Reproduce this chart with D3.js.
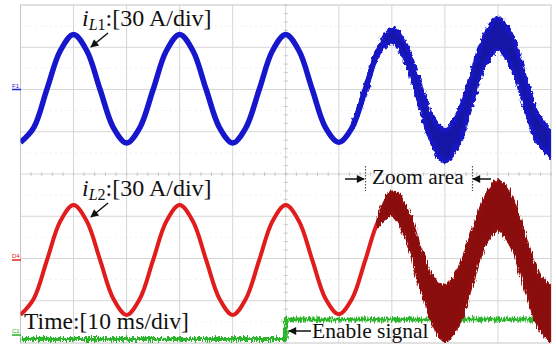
<!DOCTYPE html>
<html>
<head>
<meta charset="utf-8">
<script src="https://cdn.jsdelivr.net/npm/d3@7"></script>
<style>
  body { margin: 0; background: #fff; }
  svg { display: block; }
  text { font-family: "Liberation Serif", "Times New Roman", serif; fill: #111; }
</style>
</head>
<body>
<script>
// temps en ms (10 ms/div)
const TIME = [0, 2.5, 5, 7.5, 10, 12.5, 15, 17.5, 20, 22.5, 25, 27.5, 30, 32.5, 35, 37.5,
  40, 42.5, 45, 47.5, 50, 52.5, 55, 57.5, 60, 62.5, 65, 67.5, 70, 72.5, 75, 77.5,
  80, 82.5, 85, 87.5, 90, 92.5, 95, 97.5, 100]

// iL1 en A (30 A/div)
const IL1 = [-37.5, -27, 0.5, 27.5, 39, 27.5, 0, -27, -38, -27, 0, 27.5, 39, 27.5, 0, -27,
  -38, -27, 0, 27.5, 39, 27.5, 0, -27, -37.5, -27, 0, 27.5, 38.5, 27, -0.5, -28,
  -40, -28, 0, 28, 39.5, 28, 0, -27.5, -38.5]
// enveloppe du bruit de iL1 (demi-largeur en A)
const IL1_NOISE = [0, 0, 0, 0, 0, 0, 0, 0, 0, 0, 0, 0, 0, 0, 0, 0,
  0, 0, 0, 0, 0, 0, 0, 0, 0, 0.5, 1, 2, 4.5, 5.5, 7, 9,
  11, 11, 10.5, 10.5, 11, 11, 10, 9.5, 9]

// iL2 en A (30 A/div)
const IL2 = [-39, -27.5, 0, 27.5, 39, 27.5, 0, -27.5, -39, -27.5, 0, 27.5, 39, 27.5, 0, -27.5,
  -39, -27.5, 0, 27.5, 39, 27.5, 0, -27.5, -38.5, -27.5, 0, 28, 40, 28, 0, -27,
  -38, -27, 0, 27.5, 39, 27.5, 0, -27.5, -39]
const IL2_NOISE = [0, 0, 0, 0, 0, 0, 0, 0, 0, 0, 0, 0, 0, 0, 0, 0,
  0, 0, 0, 0, 0, 0, 0, 0, 0, 0, 0, 2, 8, 10, 12, 15,
  19, 19, 17, 16, 17, 17, 17, 18, 19]

// signal d'activation (niveau logique)
const ENABLE_T = [0, 50, 50, 100]
const ENABLE = [0, 0, 1, 1]

const WIDTH = 556
const HEIGHT = 347
const LEFT = 20.5, RIGHT = 551, TOP = 5, BOTTOM = 343

const svg = d3.select('body').append('svg')
  .attr('width', WIDTH)
  .attr('height', HEIGHT)

const defs = svg.append('defs')
defs.append('clipPath').attr('id', 'plot')
  .append('rect').attr('x', LEFT).attr('y', TOP)
  .attr('width', RIGHT - LEFT).attr('height', BOTTOM - TOP)

// flou "bruit" pour les traces bruitées
function fuzz(id, freq, scale, blur) {
  const f = defs.append('filter').attr('id', id)
    .attr('x', '-5%').attr('y', '-30%').attr('width', '110%').attr('height', '160%')
  f.append('feTurbulence').attr('type', 'fractalNoise')
    .attr('baseFrequency', freq).attr('numOctaves', 2).attr('seed', 4).attr('result', 'n')
  f.append('feDisplacementMap').attr('in', 'SourceGraphic').attr('in2', 'n')
    .attr('scale', scale).attr('xChannelSelector', 'R').attr('yChannelSelector', 'G')
    .attr('result', 'd')
  f.append('feGaussianBlur').attr('in', 'd').attr('stdDeviation', blur)
}
fuzz('fz1', '0.35 0.2', 6, 0.6)
fuzz('fz2', '0.8 0.1', 7, 0.4)
fuzz('fzg', '1.2 0.2', 8, 0.3)

// échelles
const x = d3.scaleLinear().domain([0, 100]).range([LEFT, RIGHT])
const gx = d3.scaleLinear().domain([0, 10]).range([LEFT, RIGHT])
const gy = d3.scaleLinear().domain([0, 8]).range([TOP, BOTTOM])
const y1 = d3.scaleLinear().domain([-60, 60]).range([gy(4), gy(0)])
const y2 = d3.scaleLinear().domain([-60, 60]).range([gy(8) + 1.5, gy(4) + 1.5])
const yEn = d3.scaleLinear().domain([0, 1]).range([339, 319.5])

// grille
const grid = svg.append('g')
grid.selectAll('.hd').data(d3.range(0.5, 8, 1)).enter().append('line')
  .attr('x1', LEFT).attr('x2', RIGHT).attr('y1', d => gy(d)).attr('y2', d => gy(d))
  .attr('stroke', '#e2e2e2').attr('stroke-dasharray', '1,4')
grid.selectAll('.v').data(d3.range(1, 10)).enter().append('line')
  .attr('x1', d => gx(d)).attr('x2', d => gx(d)).attr('y1', TOP).attr('y2', BOTTOM)
  .attr('stroke', '#d6d6d6')
grid.selectAll('.h').data(d3.range(1, 8)).enter().append('line')
  .attr('x1', LEFT).attr('x2', RIGHT).attr('y1', d => gy(d)).attr('y2', d => gy(d))
  .attr('stroke', '#d6d6d6')
// petites graduations sur les axes centraux
grid.selectAll('.tx').data(d3.range(0, 10.01, 0.2)).enter().append('line')
  .attr('x1', d => gx(d)).attr('x2', d => gx(d)).attr('y1', gy(4) - 2).attr('y2', gy(4) + 2)
  .attr('stroke', '#c8c8c8')
grid.selectAll('.ty').data(d3.range(0, 8.01, 0.2)).enter().append('line')
  .attr('y1', d => gy(d)).attr('y2', d => gy(d)).attr('x1', gx(5) - 2).attr('x2', gx(5) + 2)
  .attr('stroke', '#c8c8c8')
grid.append('rect').attr('x', LEFT).attr('y', TOP)
  .attr('width', RIGHT - LEFT).attr('height', BOTTOM - TOP)
  .attr('fill', 'none').attr('stroke', '#c4c4c4')

const PTS = TIME.map((t, i) => ({ t, a: IL1[i], na: IL1_NOISE[i], b: IL2[i], nb: IL2_NOISE[i] }))
const clean = PTS.filter(d => d.t <= 70)
const noisy = PTS.filter(d => d.t >= 62.5)
const noisy2 = PTS.filter(d => d.t >= 67.5)

const traces = svg.append('g').attr('clip-path', 'url(#plot)')

// signal d'activation (vert)
const en = ENABLE_T.map((t, i) => ({ t, v: ENABLE[i] }))
traces.append('path').datum(en)
  .attr('d', d3.line().x(d => x(d.t)).y(d => yEn(d.v)))
  .attr('fill', 'none').attr('stroke', '#2cb52c').attr('stroke-width', 4)
  .attr('filter', 'url(#fzg)')

// iL1 (bleu)
traces.append('path').datum(clean)
  .attr('d', d3.line().curve(d3.curveCatmullRom).x(d => x(d.t)).y(d => y1(d.a)))
  .attr('fill', 'none').attr('stroke', '#1616cc').attr('stroke-width', 5.5)
traces.append('path').datum(noisy)
  .attr('d', d3.area().curve(d3.curveCatmullRom).x(d => x(d.t))
    .y0(d => y1(d.a - d.na)).y1(d => y1(d.a + d.na)))
  .attr('fill', '#1414a6').attr('stroke', '#1818c4').attr('stroke-width', 4.5)
  .attr('filter', 'url(#fz1)')

// iL2 (rouge)
traces.append('path').datum(clean)
  .attr('d', d3.line().curve(d3.curveCatmullRom).x(d => x(d.t)).y(d => y2(d.b)))
  .attr('fill', 'none').attr('stroke', '#e01c1c').attr('stroke-width', 4)
traces.append('path').datum(noisy2)
  .attr('d', d3.area().curve(d3.curveCatmullRom).x(d => x(d.t))
    .y0(d => y2(d.b - d.nb)).y1(d => y2(d.b + d.nb)))
  .attr('fill', '#8a0b0b').attr('stroke', '#8f0f0f').attr('stroke-width', 4)
  .attr('filter', 'url(#fz2)')

// repères de voies
const marks = [
  { label: 'F1', y: y1(0), color: '#2222dd' },
  { label: 'D4', y: y2(0), color: '#e02020' },
  { label: 'C1', y: 335, color: '#22b022' },
]
marks.forEach(m => {
  svg.append('text').attr('x', 12).attr('y', m.y - 2)
    .style('font-family', 'Arial, sans-serif').style('font-size', '6px').style('fill', m.color)
    .text(m.label)
  svg.append('line').attr('x1', 12).attr('x2', 21).attr('y1', m.y).attr('y2', m.y)
    .attr('stroke', m.color).attr('stroke-width', 1.5)
})

// flèches
defs.append('marker').attr('id', 'arr').attr('viewBox', '0 0 10 10')
  .attr('refX', 9).attr('refY', 5).attr('markerWidth', 10).attr('markerHeight', 8)
  .attr('markerUnits', 'userSpaceOnUse').attr('orient', 'auto')
  .append('path').attr('d', 'M0,0L10,5L0,10z').attr('fill', '#111')

function arrow(x1, y1_, x2, y2_) {
  svg.append('line').attr('x1', x1).attr('y1', y1_).attr('x2', x2).attr('y2', y2_)
    .attr('stroke', '#111').attr('stroke-width', 1.5).attr('marker-end', 'url(#arr)')
}

function label(sub, yy) {
  const t = svg.append('text').attr('x', 82).attr('y', yy).style('font-size', '24px')
  t.append('tspan').style('font-style', 'italic').text('i')
  t.append('tspan').style('font-style', 'italic').style('font-size', '16px').attr('dy', 4).text('L')
  t.append('tspan').style('font-size', '16px').text(sub)
  t.append('tspan').attr('dy', -4).text(':[30 A/div]')
}
label('1', 26)
arrow(108, 33, 91, 47)
label('2', 196)
arrow(108, 203, 91, 217)

svg.append('text').attr('x', 24).attr('y', 329).style('font-size', '23.6px').text('Time:[10 ms/div]')

svg.append('text').attr('x', 312).attr('y', 338).style('font-size', '21.5px').text('Enable signal')
arrow(311, 331, 289, 331)

svg.append('text').attr('x', 372).attr('y', 184).style('font-size', '21.3px').text('Zoom area')
arrow(345, 179, 364, 179)
arrow(491, 179, 473, 179)
;[365.5, 472.5].forEach(xx => {
  svg.append('line').attr('x1', xx).attr('x2', xx).attr('y1', 166).attr('y2', 191)
    .attr('stroke', '#555').attr('stroke-width', 1.2).attr('stroke-dasharray', '1.5,1.5')
})
</script>
</body>
</html>
